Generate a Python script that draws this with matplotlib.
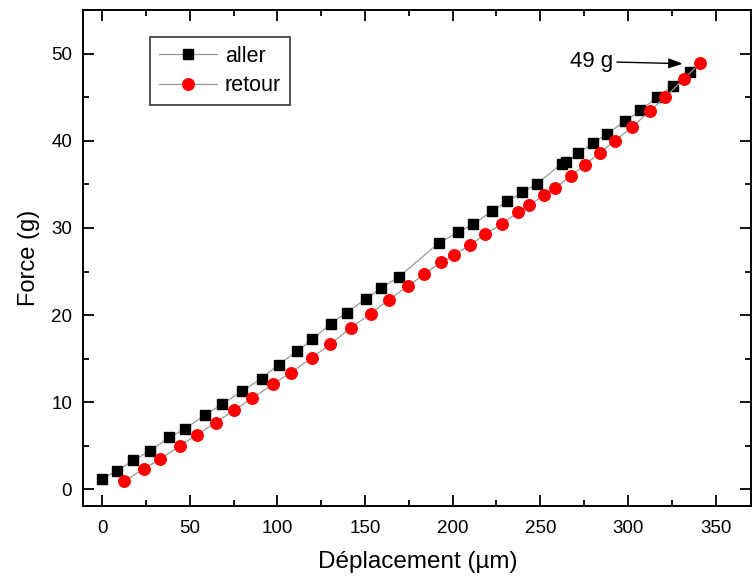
import numpy as np
import matplotlib.pyplot as plt
from matplotlib.ticker import MultipleLocator

# ─── DATA ───────────────────────────────────────────────────────────────────
aller_x = [0, 8.4, 17.9, 27.2, 38.4, 47.3, 58.5, 68.6, 79.8, 91.0, 100.7,
           111.5, 120.0, 130.5, 139.5, 150.3, 159.1, 169.5, 192.3, 203.1,
           211.7, 222.3, 231.0, 239.7, 247.9, 262.4, 264.7, 271.8, 280.3,
           288.1, 298.2, 307.1, 316.4, 325.9, 335.4]
aller_y = [1.22, 2.14, 3.32, 4.43, 5.96, 6.95, 8.52, 9.78, 11.27, 12.72, 14.32,
           15.88, 17.2, 19.03, 20.28, 21.84, 23.1, 24.4, 28.3, 29.48,
           30.43, 31.89, 33.05, 34.07, 35.03, 37.39, 37.57, 38.6, 39.79,
           40.78, 42.23, 43.49, 45.0, 46.3, 47.85]

retour_x = [12.5, 23.9, 33.1, 44.5, 54.3, 64.8, 75.4, 85.7, 97.7, 107.8,
            119.6, 130.0, 142.0, 153.2, 163.6, 174.5, 183.6, 193.5, 200.7,
            210.0, 218.5, 228.1, 237.3, 243.7, 252.0, 258.4, 267.6, 275.4,
            283.8, 292.5, 302.6, 312.8, 321.2, 331.8, 341.1]
retour_y = [0.92, 2.37, 3.48, 5.0, 6.3, 7.67, 9.09, 10.47, 12.1, 13.4,
            15.1, 16.63, 18.56, 20.16, 21.77, 23.33, 24.67, 26.05, 26.85,
            28.07, 29.25, 30.47, 31.8, 32.6, 33.75, 34.6, 35.97, 37.23,
            38.6, 40.0, 41.6, 43.46, 45.0, 47.05, 48.9]

plt.rcParams['font.family'] = ['Liberation Sans', 'DejaVu Sans']

# ─── FIGURE ────────────────────────────────────────────────────────────────
fig = plt.figure(figsize=(7.53, 5.81), dpi=100, facecolor="white")
ax = fig.add_axes([0.1106, 0.1291, 0.8874, 0.8537])

LINE_COL = "#9a9a9a"

ax.plot(aller_x, aller_y, color=LINE_COL, linewidth=0.9,
        marker="s", markersize=7.6, markerfacecolor="black",
        markeredgecolor="black", label="aller", zorder=3)
ax.plot(retour_x, retour_y, color=LINE_COL, linewidth=0.9,
        marker="o", markersize=8.3, markerfacecolor="red",
        markeredgecolor="red", label="retour", zorder=3)

# annotation du dernier point
ax.annotate("49 g", xy=(331.2, 48.84), xytext=(291.3, 49.1),
            fontsize=16, va="center", ha="right",
            arrowprops=dict(arrowstyle="-|>,head_length=0.7,head_width=0.25",
                            color="black", lw=1.0,
                            mutation_scale=12, shrinkA=1, shrinkB=0))

ax.set_xlim(-10.7, 370.5)
ax.set_ylim(-1.9, 55)

ax.xaxis.set_major_locator(MultipleLocator(50))
ax.xaxis.set_minor_locator(MultipleLocator(25))
ax.yaxis.set_major_locator(MultipleLocator(10))
ax.yaxis.set_minor_locator(MultipleLocator(5))

ax.tick_params(which="both", direction="in", top=True, right=True,
               width=1.3, labelsize=13.5, colors="black")
ax.tick_params(which="major", length=8)
ax.tick_params(axis="x", which="major", pad=10)
ax.tick_params(axis="y", which="major", pad=8)
ax.tick_params(which="minor", length=4)
for sp in ax.spines.values():
    sp.set_linewidth(1.4)

ax.set_xlabel("Déplacement (µm)", fontsize=17.5, labelpad=10)
ax.set_ylabel("Force (g)", fontsize=17, labelpad=8)

leg = ax.legend(loc="upper left", bbox_to_anchor=(0.1005, 0.945),
                borderaxespad=0, fontsize=15.5, fancybox=False,
                framealpha=1, edgecolor="#333333", handlelength=2.7,
                handletextpad=0.35, labelspacing=0.4, borderpad=0.4)
leg.get_frame().set_linewidth(1.2)

plt.savefig("out.png", dpi=100, facecolor="white")
plt.close()
